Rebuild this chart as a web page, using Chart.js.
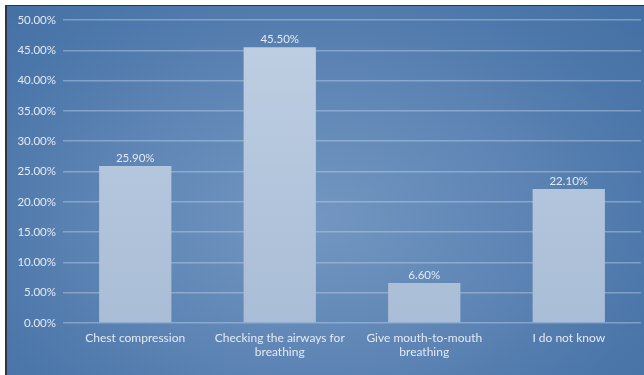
<!DOCTYPE html>
<html>
<head>
<meta charset="utf-8">
<script src="https://cdn.jsdelivr.net/npm/chart.js@4/dist/chart.umd.min.js"></script>
<style>
  html, body { margin: 0; padding: 0; background: #ffffff; width: 644px; height: 375px; overflow: hidden; }
  #frame {
    position: absolute; left: 5px; top: 5px; width: 639px; height: 370px;
    border-left: 2px solid #2e3540; border-top: 1px solid #2e3540; box-sizing: border-box;
    background: radial-gradient(ellipse 70% 85% at 48% 58%, #7397c1 0%, #5e85b5 45%, #4b76a9 80%, #4370a5 100%);
  }
  #c { position: absolute; left: 0; top: 0; }
</style>
</head>
<body>
<div id="frame"></div>
<canvas id="c" width="644" height="375"></canvas>
<script>
const categories = [
  "Chest compression",
  ["Checking the airways for", "breathing"],
  ["Give mouth-to-mouth", "breathing"],
  "I do not know"
];
const values = [25.9, 45.5, 6.6, 22.1];
const yTickMin = 0;
const yTickMax = 50;
const yTickStep = 5;

const textColor = "#e3eaf3";
const fontFamily = "Lato, 'Open Sans', sans-serif";

const valueLabels = {
  id: "valueLabels",
  afterDatasetsDraw(chart) {
    const ctx = chart.ctx;
    const meta = chart.getDatasetMeta(0);
    ctx.save();
    ctx.fillStyle = textColor;
    ctx.font = "11.5px " + fontFamily;
    ctx.textAlign = "center";
    ctx.textBaseline = "bottom";
    meta.data.forEach((bar, i) => {
      ctx.fillText(values[i].toFixed(2) + "%", bar.x, bar.y - 2);
    });
    ctx.restore();
  }
};

new Chart(document.getElementById("c"), {
  type: "bar",
  data: {
    labels: categories,
    datasets: [{
      data: values,
      backgroundColor: (c) => {
        const area = c.chart.chartArea;
        if (!area) return "#b3c5db";
        const g = c.chart.ctx.createLinearGradient(0, area.top, 0, area.bottom);
        g.addColorStop(0, "#bfcfe3");
        g.addColorStop(1, "#a9bdd6");
        return g;
      },
      borderWidth: 0,
      barPercentage: 0.5,
      categoryPercentage: 1.0
    }]
  },
  options: {
    responsive: false,
    animation: false,
    events: [],
    layout: { padding: { top: 20, right: 3, left: 0, bottom: 0 } },
    plugins: { legend: { display: false }, tooltip: { enabled: false } },
    scales: {
      x: {
        grid: { display: false, drawTicks: false },
        border: { display: false },
        ticks: {
          color: textColor,
          font: { family: fontFamily, size: 12 },
          padding: 8,
          maxRotation: 0,
          autoSkip: false
        },
        afterFit: (s) => { s.height = 52; }
      },
      y: {
        min: yTickMin,
        max: yTickMax,
        grid: { color: "rgba(200,215,235,0.42)", lineWidth: 1.5, drawTicks: false },
        border: { display: false },
        ticks: {
          stepSize: yTickStep,
          color: textColor,
          font: { family: fontFamily, size: 11.5 },
          padding: 7,
          callback: (v) => v.toFixed(2) + "%"
        },
        afterFit: (s) => { s.width = 63; }
      }
    }
  },
  plugins: [valueLabels]
});
</script>
</body>
</html>
